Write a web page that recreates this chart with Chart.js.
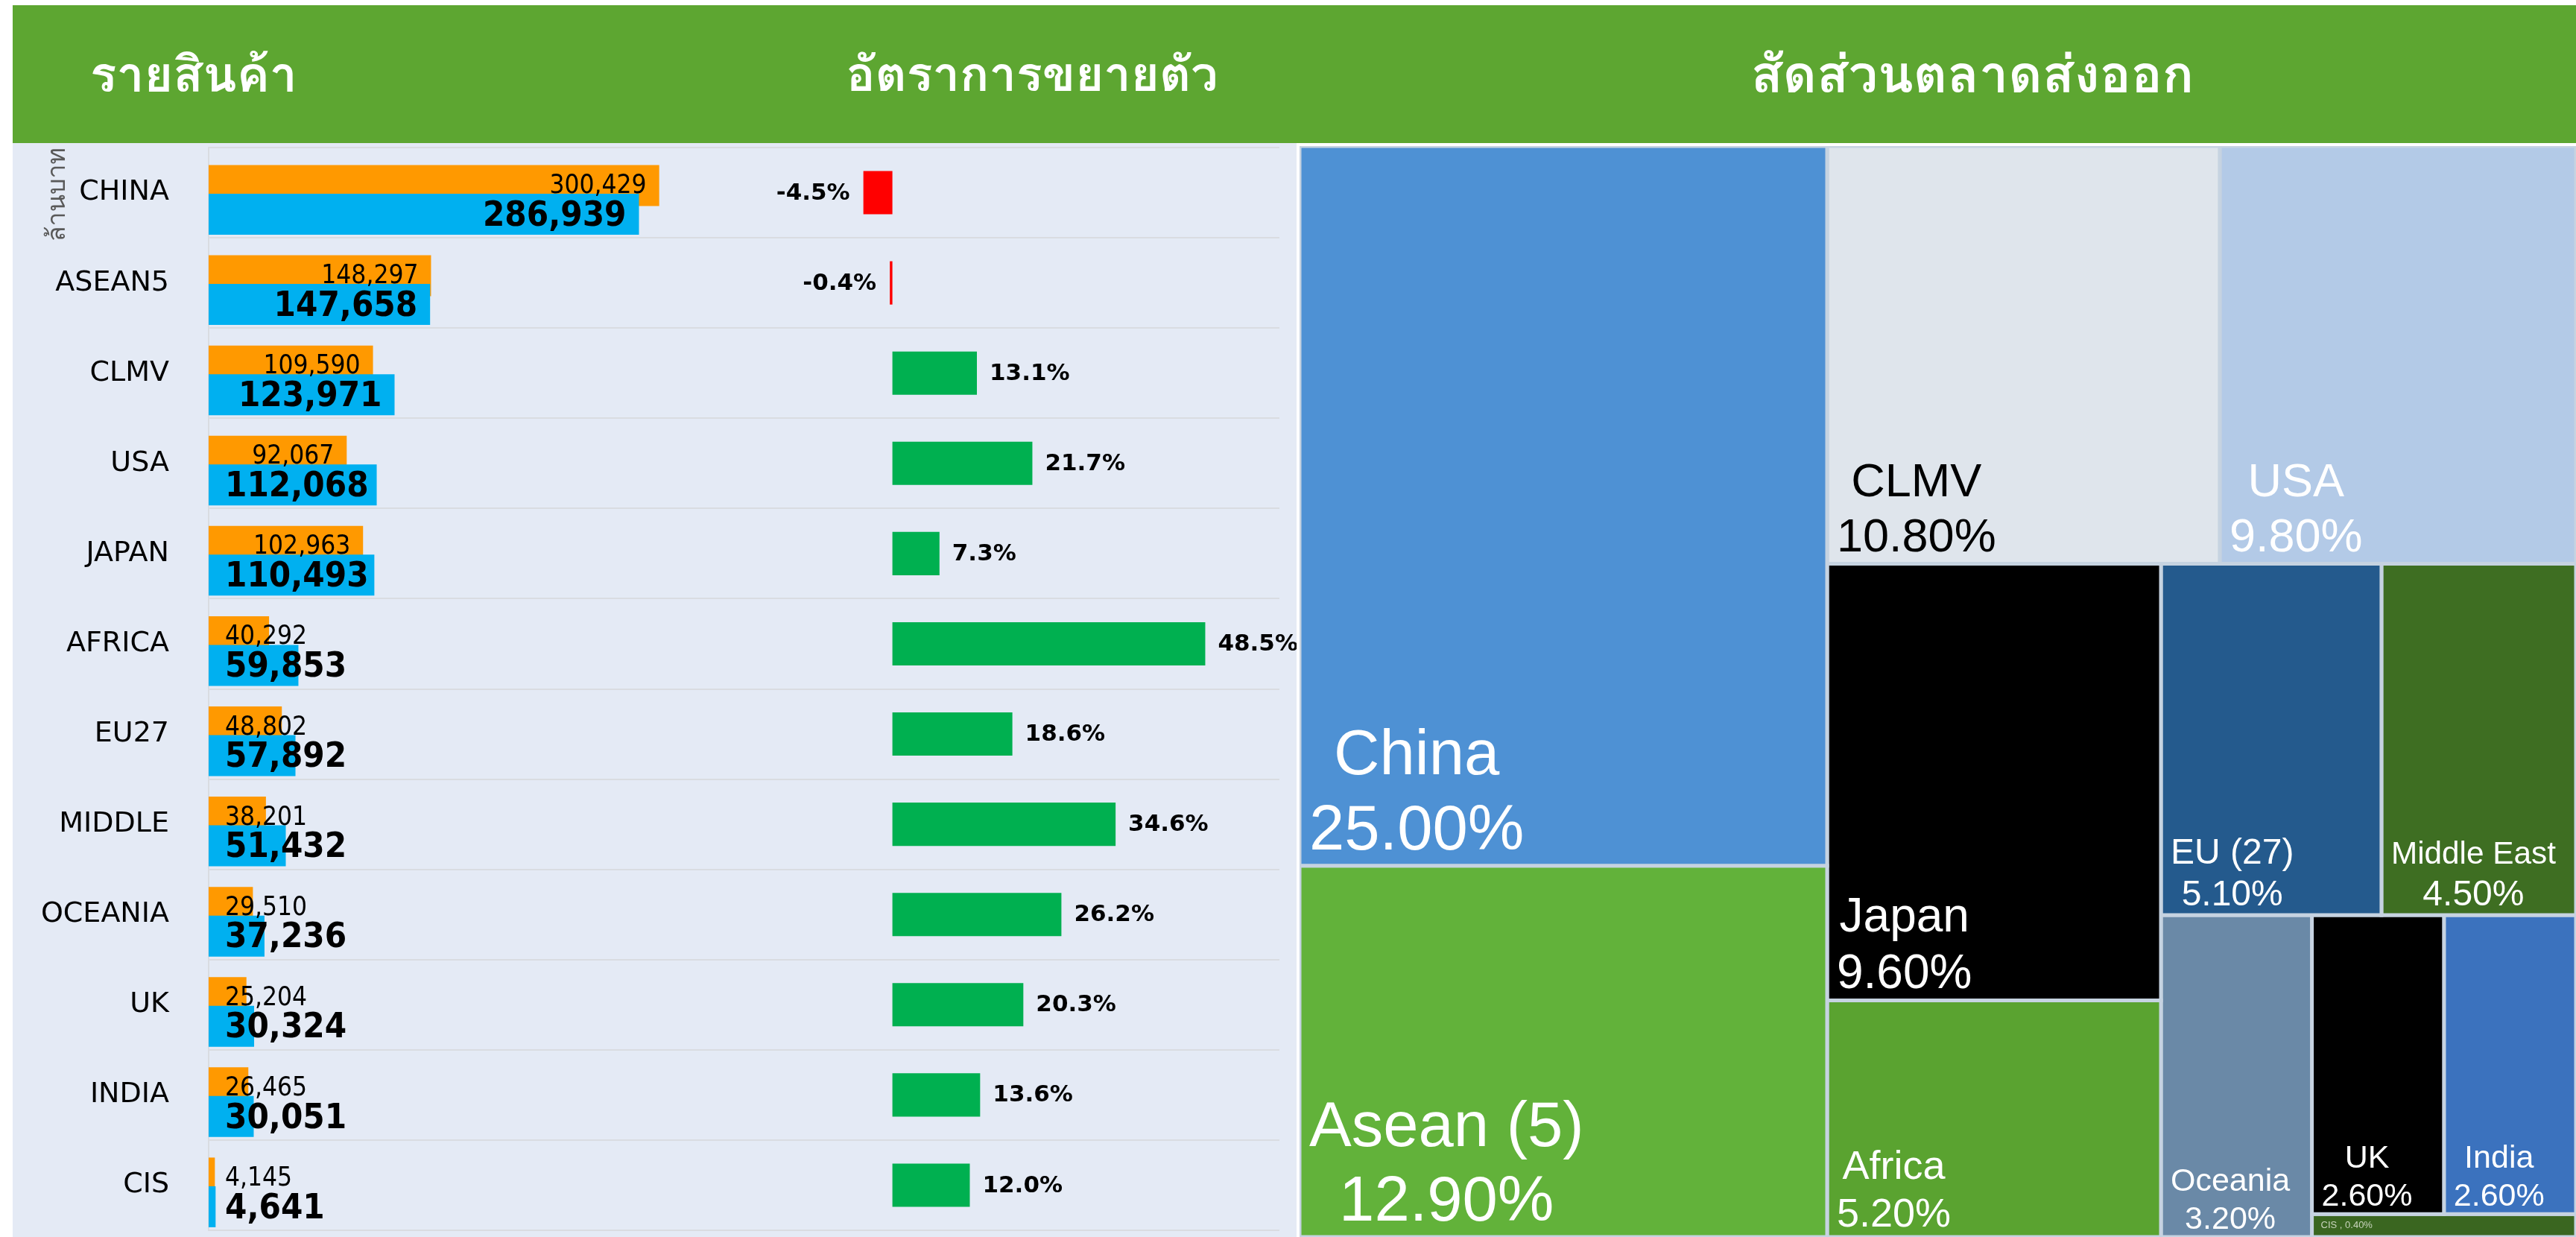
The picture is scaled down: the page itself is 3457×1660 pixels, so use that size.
<!DOCTYPE html>
<html>
<head>
<meta charset="utf-8">
<script src="https://cdn.jsdelivr.net/npm/chart.js@4.4.1/dist/chart.umd.min.js"></script>
<style>
  body { margin: 0; width: 3457px; height: 1660px; overflow: hidden; background: #ffffff; position: relative; }
  #header { position: absolute; left: 17px; top: 7px; width: 3440px; height: 185px; background: #5DA631; }
  .head { position: absolute; top: 0; width: 900px; height: 185px; text-align: center; color: #ffffff;
          font: bold 70px Tahoma, "Leelawadee UI", Loma, Garuda, Norasi, Waree, Kinnari, "Noto Sans Thai Looped",
                "Noto Serif Thai", "Noto Sans Thai", "Noto Sans", sans-serif;
          line-height: 185px; }
  #left { position: absolute; left: 17px; top: 192px; width: 1723px; height: 1468px; background: #E4EAF5; }
  #tree { position: absolute; left: 1744px; top: 196px; width: 1713px; height: 1464px; background: #C6D3E1; }
</style>
</head>
<body>
<div id="header">
  <div class="head" style="left:-207px; font-size:66px">รายสินค้า</div>
  <div class="head" style="left:918px; font-size:65px">อัตราการขยายตัว</div>
  <div class="head" style="left:2180px">สัดส่วนตลาดส่งออก</div>
</div>
<div id="left"><canvas id="bars"></canvas></div>
<div id="tree"><canvas id="treemap"></canvas></div>

<script>
// export value (million baht), previous vs current period
const categories = ["CHINA", "ASEAN5", "CLMV", "USA", "JAPAN", "AFRICA", "EU27", "MIDDLE", "OCEANIA", "UK", "INDIA", "CIS"];
const prevValues = [300429, 148297, 109590, 92067, 102963, 40292, 48802, 38201, 29510, 25204, 26465, 4145];
const currValues = [286939, 147658, 123971, 112068, 110493, 59853, 57892, 51432, 37236, 30324, 30051, 4641];
const growthPct = [-4.5, -0.4, 13.1, 21.7, 7.3, 48.5, 18.6, 34.6, 26.2, 20.3, 13.6, 12.0];

// market share treemap
const shareNames = ["China", "Asean (5)", "CLMV", "USA", "Japan", "Africa", "EU (27)", "Middle East", "Oceania", "UK", "India", "CIS"];
const shareValues = [25.0, 12.9, 10.8, 9.8, 9.6, 5.2, 5.1, 4.5, 3.2, 2.6, 2.6, 0.4];
const treeRows = [2, 2, 2, 2, 1, 2, 1]; // how many cells go in each strip
const shareColors = ["#4E91D4", "#62B23A", "#DFE5EC", "#B3CAE7", "#000000", "#5AA330",
                     "#245A8D", "#3E6E22", "#6A89A7", "#000000", "#3B72BE", "#3A6620"];
const shareText = ["#fff", "#fff", "#000", "#fff", "#fff", "#fff", "#fff", "#fff", "#fff", "#fff", "#fff", "#C8D4BC"];
const shareFont = [85, 85, 63, 63, 64, 54, 48, 48, 43, 43, 43, 13];

const fmt = (v) => v.toLocaleString("en-US");

// ---------- left: bars + growth ----------
const barLabels = {
  id: "barLabels",
  afterDatasetsDraw(chart) {
    const { ctx, chartArea } = chart;
    ctx.save();
    ctx.fillStyle = "#000";
    ctx.textBaseline = "middle";
    ctx.textAlign = "left";

    const drawValue = (dsIndex, font, values, dy) => {
      ctx.font = font;
      chart.getDatasetMeta(dsIndex).data.forEach((bar, i) => {
        const txt = fmt(values[i]);
        const w = ctx.measureText(txt).width;
        const left = Math.max(bar.x - 17 - w, chartArea.left + 22);
        ctx.fillText(txt, left, bar.y + dy);
      });
    };
    drawValue(0, '35px "DejaVu Sans Condensed", "DejaVu Sans", sans-serif', prevValues, 1);
    drawValue(1, 'bold 47px "DejaVu Sans Condensed", "DejaVu Sans", sans-serif', currValues, 3);

    ctx.font = 'bold 31px "DejaVu Sans", sans-serif';
    chart.getDatasetMeta(2).data.forEach((bar, i) => {
      const v = growthPct[i];
      const txt = v.toFixed(1) + "%";
      if (v < 0) {
        ctx.textAlign = "right";
        ctx.fillText(txt, bar.x - 18, bar.y + 1);
      } else {
        ctx.textAlign = "left";
        ctx.fillText(txt, bar.x + 17, bar.y + 1);
      }
    });
    ctx.restore();
  },
};

new Chart(document.getElementById("bars"), {
  type: "bar",
  data: {
    labels: categories,
    datasets: [
      {
        label: "prev",
        data: prevValues.map((v, i) => ({ x: v, y: i })),
        backgroundColor: "#FF9900",
        xAxisID: "x",
        yAxisID: "yPrev",
        grouped: false,
        categoryPercentage: 1,
        barPercentage: 0.454,
        order: 2,
      },
      {
        label: "curr",
        data: currValues.map((v, i) => ({ x: v, y: i })),
        backgroundColor: "#00B0F0",
        xAxisID: "x",
        yAxisID: "yCurr",
        grouped: false,
        categoryPercentage: 1,
        barPercentage: 0.454,
        order: 1,
      },
      {
        label: "growth",
        data: growthPct,
        backgroundColor: (c) => (c.raw < 0 ? "#FF0000" : "#00B050"),
        xAxisID: "xg",
        yAxisID: "y",
        grouped: false,
        categoryPercentage: 1,
        barPercentage: 0.48,
        order: 0,
      },
    ],
  },
  options: {
    indexAxis: "y",
    responsive: true,
    maintainAspectRatio: false,
    animation: false,
    layout: { padding: { left: 0, right: 23, top: 6, bottom: 9 } },
    scales: {
      y: {
        type: "category",
        position: "left",
        afterFit: (s) => { s.width = 263; s.paddingTop = 0; s.paddingBottom = 0; },
        grid: { color: "#D9DCE1", lineWidth: 2, drawTicks: false, offset: true },
        border: { display: true, color: "#D9DCE1", width: 2 },
        ticks: { color: "#000", padding: 53, font: { family: "DejaVu Sans", size: 38 } },
        title: {
          display: true,
          text: "ล้านบาท",
          align: "end",
          color: "#595959",
          padding: { top: 42, bottom: 0 },
          font: { family: "Tahoma, Loma, Garuda, Waree, 'Noto Sans Thai', 'Noto Sans', sans-serif", size: 34 },
        },
      },
      yPrev: {
        type: "linear", display: false, reverse: true, offset: false,
        min: -0.421, max: 11.579, ticks: { stepSize: 1 },
      },
      yCurr: {
        type: "linear", display: false, reverse: true, offset: false,
        min: -0.739, max: 11.261, ticks: { stepSize: 1 },
      },
      x: { type: "linear", display: false, min: 0, max: 714000 },
      xg: { type: "linear", display: false, min: -106, max: 60 },
    },
    plugins: { legend: { display: false }, tooltip: { enabled: false } },
  },
  plugins: [barLabels],
});

// ---------- right: treemap ----------
function stripLayout(values, rows, w, h) {
  const sum = (a) => a.reduce((s, v) => s + v, 0);
  let x = 0, y = 0, rw = w, rh = h, left = sum(values), k = 0;
  const rects = [];
  rows.forEach((n) => {
    const group = values.slice(k, k + n);
    const gsum = sum(group);
    if (rw >= rh) {
      const cw = (rw * gsum) / left;
      let cy = y;
      group.forEach((v) => {
        const ch = (rh * v) / gsum;
        rects.push({ x0: x, x1: x + cw, y0: cy, y1: cy + ch });
        cy += ch;
      });
      x += cw; rw -= cw;
    } else {
      const chh = (rh * gsum) / left;
      let cx = x;
      group.forEach((v) => {
        const cw = (rw * v) / gsum;
        rects.push({ x0: cx, x1: cx + cw, y0: y, y1: y + chh });
        cx += cw;
      });
      y += chh; rh -= chh;
    }
    left -= gsum; k += n;
  });
  return rects;
}

const treeBox = document.getElementById("tree");
const spanX = (100 * treeBox.clientWidth) / treeBox.clientHeight;
const cells = stripLayout(shareValues, treeRows, spanX, 100);

const cellLabels = {
  id: "cellLabels",
  afterDatasetsDraw(chart) {
    const { ctx } = chart;
    const family = 'px "Liberation Sans", Arial, sans-serif';
    ctx.save();
    chart.data.datasets.forEach((ds, i) => {
      const pts = chart.getDatasetMeta(i).data;
      const x0 = pts[0].x, x1 = pts[1].x, y1 = pts[2].y;
      const fs = shareFont[i];
      ctx.fillStyle = shareText[i];
      const pct = shareValues[i].toFixed(2) + "%";
      if (fs < 20) {
        ctx.font = fs + family;
        ctx.textAlign = "left";
        ctx.textBaseline = "middle";
        ctx.fillText(shareNames[i] + " , " + pct, x0 + 12, (pts[0].y + y1) / 2);
        return;
      }
      ctx.font = fs + family;
      const pw = ctx.measureText(pct).width;
      let nw = ctx.measureText(shareNames[i]).width;
      let ns = fs;
      if (nw > x1 - x0 - 40) { ns = (fs * (x1 - x0 - 40)) / nw; }
      ctx.font = ns + family;
      nw = ctx.measureText(shareNames[i]).width;
      const bw = Math.max(nw, pw);
      const cx = x0 + 13 + bw / 2;
      const base = y1 - 0.26 * fs;
      ctx.textAlign = "center";
      ctx.textBaseline = "alphabetic";
      ctx.fillText(shareNames[i], cx, base - 1.18 * fs);
      ctx.font = fs + family;
      ctx.fillText(pct, cx, base);
    });
    ctx.restore();
  },
};

new Chart(document.getElementById("treemap"), {
  type: "line",
  data: {
    datasets: cells.map((r, i) => ({
      label: shareNames[i],
      data: [
        { x: r.x0, y: r.y0 }, { x: r.x1, y: r.y0 }, { x: r.x1, y: r.y1 },
        { x: r.x0, y: r.y1 }, { x: r.x0, y: r.y0 },
      ],
      fill: "shape",
      backgroundColor: shareColors[i],
      borderColor: "#C6D3E1",
      borderWidth: 5,
      borderJoinStyle: "miter",
      pointRadius: 0,
      tension: 0,
    })),
  },
  options: {
    responsive: true,
    maintainAspectRatio: false,
    animation: false,
    layout: { padding: 0 },
    scales: {
      x: { type: "linear", display: false, min: 0, max: spanX },
      y: { type: "linear", display: false, min: 0, max: 100, reverse: true },
    },
    plugins: { legend: { display: false }, tooltip: { enabled: false } },
  },
  plugins: [cellLabels],
});
</script>
</body>
</html>
